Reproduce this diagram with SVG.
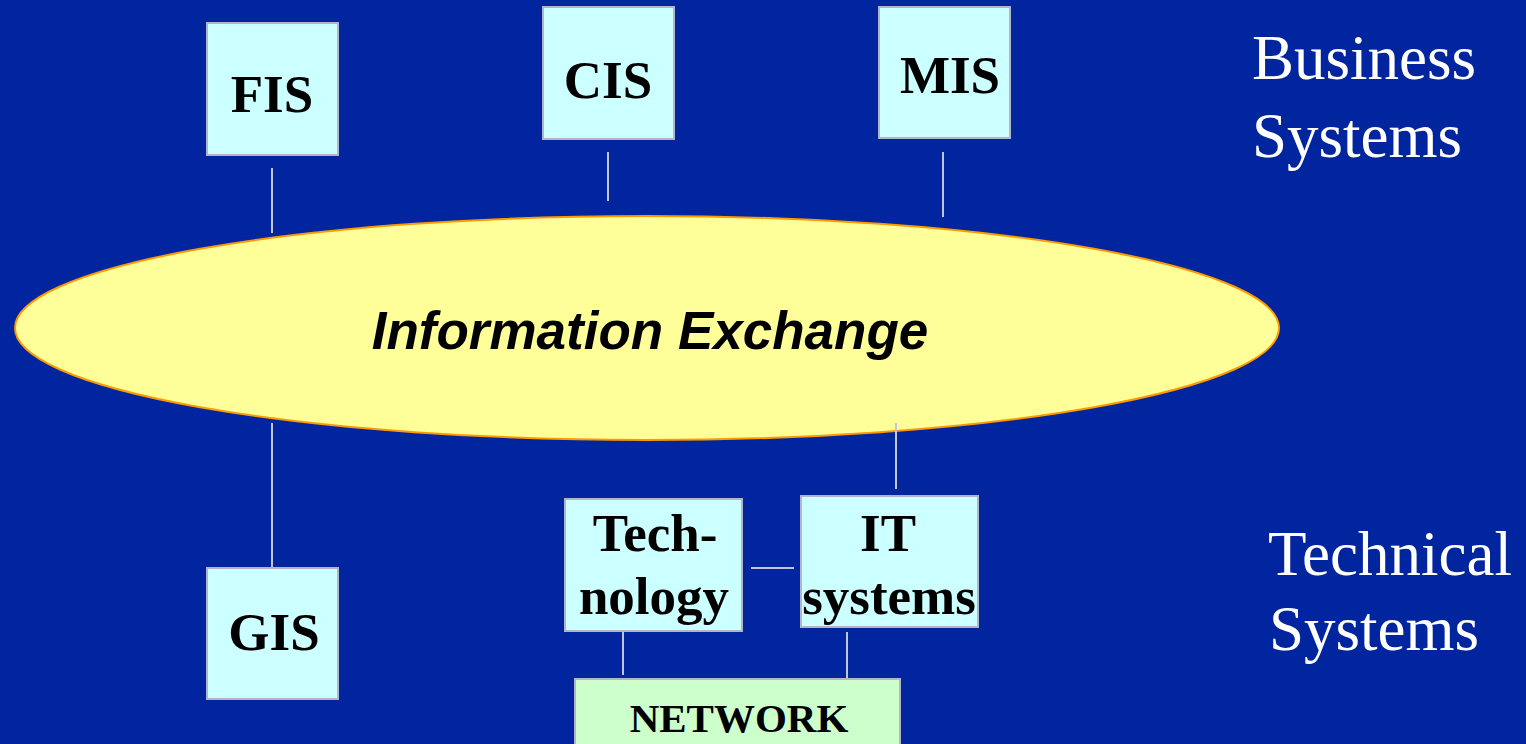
<svg xmlns="http://www.w3.org/2000/svg" width="1526" height="744" viewBox="0 0 1526 744">
  <style>
    .box { fill: #CCFFFF; stroke: #B4B4C8; stroke-width: 2; }
    .net { fill: #CCFFCC; stroke: #B4B4C8; stroke-width: 2; }
    .lbl { font-family: "Liberation Serif", "Times New Roman", serif; font-weight: bold; font-size: 53px; fill: #000; text-anchor: middle; }
    .lbl.small { font-size: 41px; }
    .side { font-family: "Liberation Serif", "Times New Roman", serif; font-size: 63px; fill: #FFFFFF; }
    .link { stroke: #C4C4D4; stroke-width: 2; fill: none; }
  </style>

  <rect x="0" y="0" width="1526" height="744" fill="#00259E"/>

  <!-- central exchange -->
  <g id="exchange">
    <ellipse cx="647" cy="328" rx="632" ry="112" fill="#FFFF99" stroke="#FF9900" stroke-width="2"/>
    <text x="650" y="349" font-family="Liberation Sans, Arial, sans-serif" font-weight="bold" font-style="italic" font-size="53" text-anchor="middle" fill="#000">Information Exchange</text>
  </g>

  <!-- connectors -->
  <g id="connectors">
    <line class="link" x1="272" y1="168" x2="272" y2="233"/>
    <line class="link" x1="608" y1="152" x2="608" y2="201"/>
    <line class="link" x1="943" y1="152" x2="943" y2="217"/>
    <line class="link" x1="272" y1="423" x2="272" y2="568"/>
    <line class="link" x1="896" y1="423" x2="896" y2="489"/>
    <line class="link" x1="751" y1="568" x2="794" y2="568"/>
    <line class="link" x1="623" y1="631" x2="623" y2="675"/>
    <line class="link" x1="847" y1="632" x2="847" y2="679"/>
  </g>

  <!-- business systems -->
  <g id="fis">
    <rect class="box" x="207" y="23" width="131" height="132"/>
    <text class="lbl" x="272" y="112">FIS</text>
  </g>
  <g id="cis">
    <rect class="box" x="543" y="7" width="131" height="132"/>
    <text class="lbl" x="608" y="98">CIS</text>
  </g>
  <g id="mis">
    <rect class="box" x="879" y="7" width="131" height="131"/>
    <text class="lbl" x="950" y="93">MIS</text>
  </g>

  <!-- technical systems -->
  <g id="gis">
    <rect class="box" x="207" y="568" width="131" height="131"/>
    <text class="lbl" x="274" y="650">GIS</text>
  </g>
  <g id="technology">
    <rect class="box" x="565" y="499" width="177" height="132"/>
    <text class="lbl" x="655" y="551">Tech-</text>
    <text class="lbl" x="654" y="614">nology</text>
  </g>
  <g id="it-systems">
    <rect class="box" x="801" y="496" width="177" height="131"/>
    <text class="lbl" x="888" y="551">IT</text>
    <text class="lbl" x="889" y="614">systems</text>
  </g>
  <g id="network">
    <rect class="net" x="575" y="679" width="325" height="80"/>
    <text class="lbl small" x="739" y="732">NETWORK</text>
  </g>

  <!-- layer captions -->
  <g id="captions">
    <text class="side" x="1252" y="79">Business</text>
    <text class="side" x="1252" y="157">Systems</text>
    <text class="side" x="1268" y="575">Technical</text>
    <text class="side" x="1269" y="650">Systems</text>
  </g>
</svg>
